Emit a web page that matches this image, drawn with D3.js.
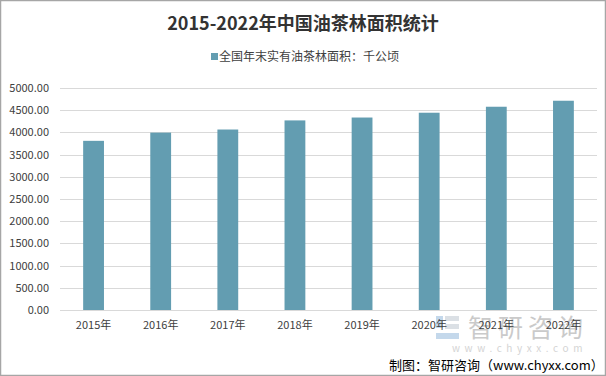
<!DOCTYPE html>
<html>
<head>
<meta charset="utf-8">
<script src="https://cdn.jsdelivr.net/npm/d3@7"></script>
<style>
  body { margin: 0; background: #fff; }
  text { font-family: "Microsoft YaHei", "Noto Sans CJK SC", sans-serif; }
</style>
</head>
<body>
<div id="chart"></div>
<script>
var years = ["2015年", "2016年", "2017年", "2018年", "2019年", "2020年", "2021年", "2022年"];
var areas = [3810, 3995, 4065, 4270, 4335, 4443, 4578, 4713];
var yTicks = [0, 500, 1000, 1500, 2000, 2500, 3000, 3500, 4000, 4500, 5000];
var seriesName = "全国年末实有油茶林面积：千公顷";

function init() {
    var W = 606, H = 376;
    var margin = {top: 88, right: 9, bottom: 66, left: 60},
        w = W - margin.left - margin.right,
        h = H - margin.top - margin.bottom;

    var svg = d3.select("#chart")
        .append("svg")
        .attr("width", W)
        .attr("height", H);

    svg.append("rect")
        .attr("x", 0.5).attr("y", 0.5)
        .attr("width", W - 1).attr("height", H - 1)
        .attr("fill", "#fff")
        .attr("stroke", "#a6a6a6")
        .attr("stroke-width", 1.5);

    // watermark
    var wm = svg.append("g").attr("opacity", 0.6);
    wm.append("rect").attr("x", 436).attr("y", 316).attr("width", 7).attr("height", 12).attr("fill", "#9dbfdf");
    wm.append("rect").attr("x", 445).attr("y", 316).attr("width", 14).attr("height", 5).attr("fill", "#c4ccd4");
    wm.append("rect").attr("x", 445).attr("y", 324).attr("width", 14).attr("height", 5).attr("fill", "#c4ccd4");
    wm.append("rect").attr("x", 436).attr("y", 333).attr("width", 23).attr("height", 6).attr("fill", "#9dbfdf");
    wm.append("text")
        .attr("x", 468).attr("y", 337)
        .attr("fill", "#a8a8a8")
        .style("font-size", "25px")
        .style("letter-spacing", "5px")
        .text("智研咨询");
    wm.append("text")
        .attr("x", 452).attr("y", 352)
        .attr("fill", "#b8b8b8")
        .style("font-size", "10px")
        .style("letter-spacing", "4.6px")
        .text("www.chyxx.com");

    var g = svg.append("g")
        .attr("transform", `translate(${margin.left}, ${margin.top})`);

    var xScale = d3.scaleBand()
        .domain(years)
        .range([0, w])
        .paddingInner(0.69)
        .paddingOuter(0.345);

    var yScale = d3.scaleLinear()
        .domain([0, 5000])
        .range([h, 0]);

    // gridlines
    g.selectAll(".grid")
        .data(yTicks)
        .enter().append("line")
        .attr("x1", 0)
        .attr("x2", w)
        .attr("y1", d => Math.round(yScale(d)) + 0.5)
        .attr("y2", d => Math.round(yScale(d)) + 0.5)
        .attr("stroke", "#d9d9d9")
        .attr("stroke-width", 1);

    // bars
    g.selectAll(".bar")
        .data(areas)
        .enter().append("rect")
        .attr("x", (d, i) => xScale(years[i]))
        .attr("width", xScale.bandwidth())
        .attr("y", d => yScale(d))
        .attr("height", d => h - yScale(d))
        .attr("fill", "#639db1");

    // y axis labels
    var yAxis = g.append("g")
        .call(d3.axisLeft(yScale).tickValues(yTicks).tickFormat(d3.format(".2f")).tickSize(0).tickPadding(11));
    yAxis.select(".domain").remove();
    yAxis.selectAll("text")
        .attr("fill", "#404040")
        .style("font-size", "11px")
        .style("font-family", "'Microsoft YaHei', 'Noto Sans CJK SC', sans-serif");

    // x axis labels
    var xAxis = g.append("g")
        .attr("transform", `translate(0, ${h})`)
        .call(d3.axisBottom(xScale).tickSize(0).tickPadding(11));
    xAxis.select(".domain").remove();
    xAxis.selectAll("text")
        .attr("fill", "#404040")
        .style("font-size", "11px")
        .style("font-family", "'Microsoft YaHei', 'Noto Sans CJK SC', sans-serif");

    // title
    svg.append("text")
        .attr("x", 303)
        .attr("y", 30)
        .attr("text-anchor", "middle")
        .attr("fill", "#333")
        .style("font-size", "18px")
        .style("font-weight", "bold")
        .text("2015-2022年中国油茶林面积统计");

    // legend
    svg.append("rect")
        .attr("x", 211).attr("y", 53)
        .attr("width", 7).attr("height", 7)
        .attr("fill", "#639db1");
    svg.append("text")
        .attr("x", 219)
        .attr("y", 61)
        .attr("fill", "#404040")
        .style("font-size", "12px")
        .text(seriesName);

    // source
    svg.append("text")
        .attr("x", 389)
        .attr("y", 370)
        .attr("fill", "#000")
        .style("font-size", "13px")
        .text("制图：智研咨询（www.chyxx.com）");
}

window.onload = init;
</script>
</body>
</html>
